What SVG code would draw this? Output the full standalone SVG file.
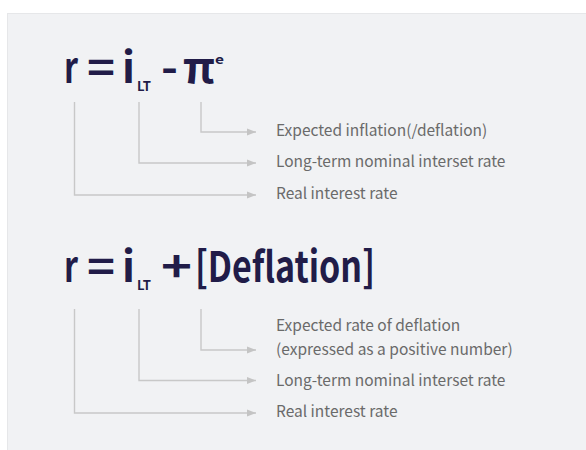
<svg xmlns="http://www.w3.org/2000/svg" width="586" height="450" viewBox="0 0 586 450">
  <defs>
    <marker id="arrow" viewBox="0 0 10 10" refX="10" refY="5" markerWidth="9" markerHeight="9" markerUnits="userSpaceOnUse" orient="auto">
      <path d="M0,1 L10,5 L0,9 Z" fill="#c4c4c4"/>
    </marker>
  </defs>
  <style>
    .panel { fill: #f1f2f4; stroke: #e6e7e9; stroke-width: 1; }
    .formula { font-family: "Noto Sans CJK KR", "Noto Sans", sans-serif; font-weight: 700; fill: #211c48; }
    .big { font-size: 42px; }
    .sub { font-size: 13px; }
    .sup { font-size: 12px; }
    .label { font-family: "Noto Sans CJK KR", "Noto Sans", sans-serif; font-size: 15.5px; fill: #6a6a6a; }
    .link { fill: none; stroke: #c8c8c8; stroke-width: 1.4; marker-end: url(#arrow); }
  </style>

  <rect class="panel" x="7.5" y="13.5" width="580" height="440"/>

  <!-- first equation: r = i_LT - pi^e -->
  <g id="eq-inflation" class="formula">
    <text class="big" x="64" y="83" textLength="14" lengthAdjust="spacingAndGlyphs">r</text>
    <text class="big" x="87" y="83" textLength="28" lengthAdjust="spacingAndGlyphs">=</text>
    <text class="big" x="122" y="83" textLength="13" lengthAdjust="spacingAndGlyphs">i</text>
    <text class="sub" x="137" y="91" textLength="14" lengthAdjust="spacingAndGlyphs">LT</text>
    <text class="big" x="161" y="83" textLength="17" lengthAdjust="spacingAndGlyphs">-</text>
    <text class="big" x="183" y="83" textLength="32" lengthAdjust="spacingAndGlyphs">π</text>
    <text class="sup" x="215" y="64" textLength="9" lengthAdjust="spacingAndGlyphs">e</text>
  </g>

  <!-- second equation: r = i_LT + [Deflation] -->
  <g id="eq-deflation" class="formula">
    <text class="big" x="64" y="282" textLength="14" lengthAdjust="spacingAndGlyphs">r</text>
    <text class="big" x="87" y="282" textLength="28" lengthAdjust="spacingAndGlyphs">=</text>
    <text class="big" x="122" y="282" textLength="13" lengthAdjust="spacingAndGlyphs">i</text>
    <text class="sub" x="137" y="290" textLength="14" lengthAdjust="spacingAndGlyphs">LT</text>
    <text class="big" x="161" y="282" textLength="31" lengthAdjust="spacingAndGlyphs">+</text>
    <text class="big" x="195" y="282" textLength="180" lengthAdjust="spacingAndGlyphs">[Deflation]</text>
  </g>

  <g id="labels-inflation">
    <text class="label" x="276" y="136">Expected inflation(/deflation)</text>
    <text class="label" x="276" y="167">Long-term nominal interset rate</text>
    <text class="label" x="276" y="199">Real interest rate</text>
  </g>

  <g id="labels-deflation">
    <text class="label" x="276" y="331">Expected rate of deflation</text>
    <text class="label" x="276" y="355">(expressed as a positive number)</text>
    <text class="label" x="276" y="386">Long-term nominal interset rate</text>
    <text class="label" x="276" y="417">Real interest rate</text>
  </g>

  <g id="connectors">
    <path class="link" d="M201,102 V132 H256"/>
    <path class="link" d="M139,102 V163 H256"/>
    <path class="link" d="M74.5,102 V195 H256"/>
    <path class="link" d="M201,309 V350 H256"/>
    <path class="link" d="M139,309 V380.5 H256"/>
    <path class="link" d="M74.5,309 V413 H256"/>
  </g>
</svg>
